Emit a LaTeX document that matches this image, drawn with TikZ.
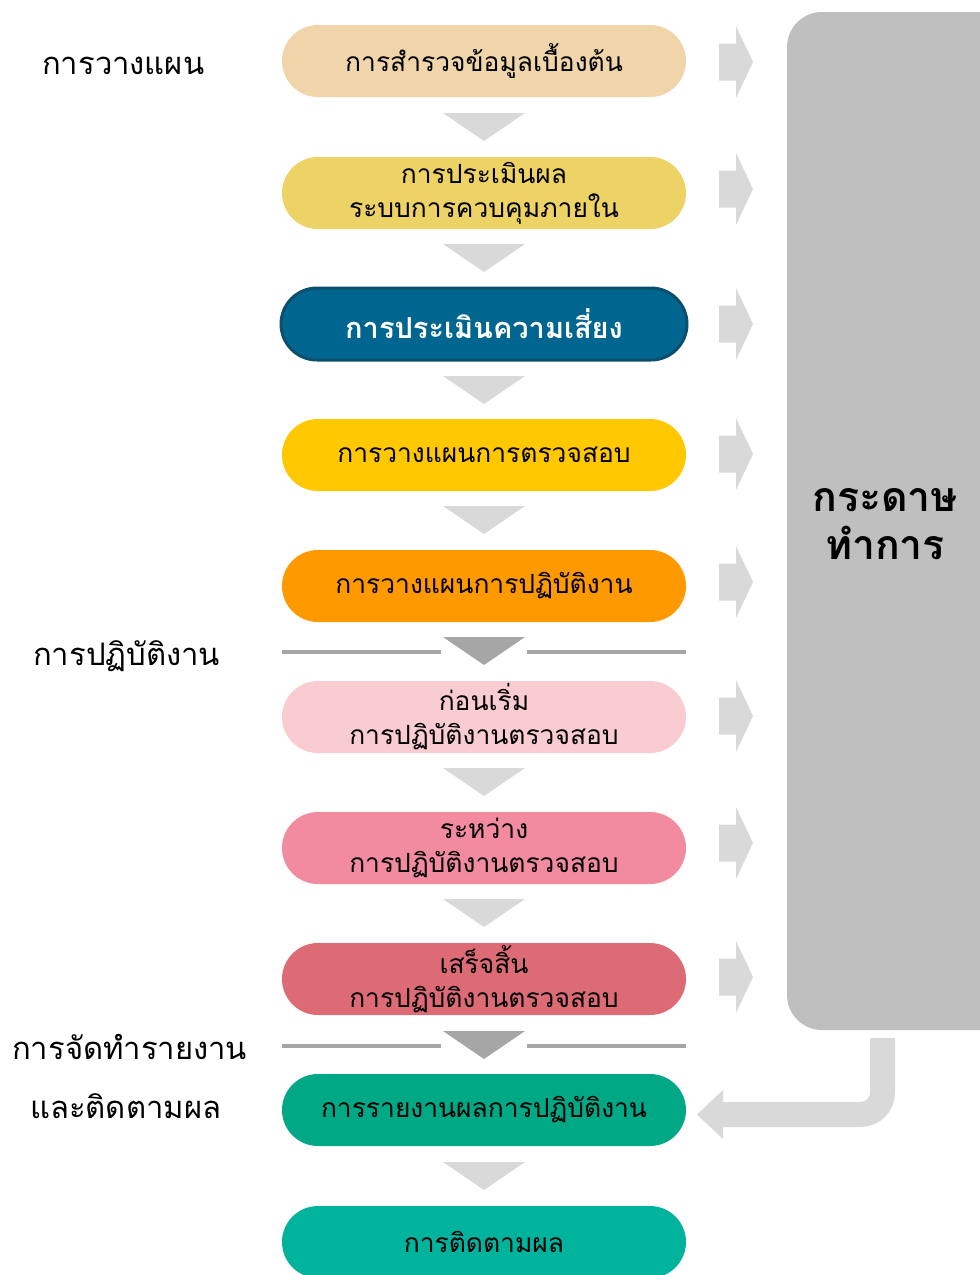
\documentclass[tikz,border=0pt]{standalone}
\usepackage{fontspec}
\newfontfamily\thai[Script=Thai]{Loma}
\usetikzlibrary{shapes.misc}
\definecolor{cA}{HTML}{EFD5A9}
\definecolor{cB}{HTML}{EDD366}
\definecolor{cC}{HTML}{00658F}
\definecolor{cCb}{HTML}{0B4F6C}
\definecolor{cD}{HTML}{FFC800}
\definecolor{cE}{HTML}{FF9900}
\definecolor{cF}{HTML}{F9CCD1}
\definecolor{cG}{HTML}{F28B9F}
\definecolor{cH}{HTML}{DD6B76}
\definecolor{cI}{HTML}{00A886}
\definecolor{cJ}{HTML}{00B39D}
\definecolor{lightg}{HTML}{D9D9D9}
\definecolor{darkg}{HTML}{A6A6A6}
\definecolor{paperg}{HTML}{BFBFBF}
\tikzset{
  pill/.style={rounded rectangle, minimum width=404pt, minimum height=72pt, inner sep=0pt,
     align=center, font=\thai\fontsize{26.4}{34}\selectfont, text=black},
  lbl/.style={font=\thai\fontsize{31}{40}\selectfont, text=black, inner sep=0pt},
  downtri/.style={fill=lightg},
  septri/.style={fill=darkg},
  sepline/.style={draw=darkg, line width=4pt},
  rarrow/.style={fill=lightg},
}
\begin{document}
\begin{tikzpicture}[x=1pt,y=-1pt]
\useasboundingbox (0,0) rectangle (980,1275);
\begin{scope}
\clip (0,0) rectangle (980,1275);
% big paper box
\node[fill=paperg, rounded corners=35pt, minimum width=240pt, minimum height=1018pt, inner sep=0pt] (paper) at (907,521) {};
\node[font=\thai\bfseries\fontsize{41}{48}\selectfont, align=center, inner sep=0pt] (papertxt) at (885,524) {กระดาษ\\ทำการ};
% pills
\node[pill, fill=cA] (p1) at (484,61) {การสำรวจข้อมูลเบื้องต้น};
\node[pill, fill=cB] (p2) at (484,193) {การประเมินผล\\ระบบการควบคุมภายใน};
\node[pill, fill=cC, draw=cCb, line width=3pt, minimum width=406pt, text=white, font=\thai\bfseries\fontsize{29}{34}\selectfont] (p3) at (484,324) {การประเมินความเสี่ยง};
\node[pill, fill=cD] (p4) at (484,455) {การวางแผนการตรวจสอบ};
\node[pill, fill=cE] (p5) at (484,586) {การวางแผนการปฏิบัติงาน};
\node[pill, fill=cF] (p6) at (484,717) {ก่อนเริ่ม\\การปฏิบัติงานตรวจสอบ};
\node[pill, fill=cG] (p7) at (484,848) {ระหว่าง\\การปฏิบัติงานตรวจสอบ};
\node[pill, fill=cH] (p8) at (484,979) {เสร็จสิ้น\\การปฏิบัติงานตรวจสอบ};
\node[pill, fill=cI] (p9) at (484,1110) {การรายงานผลการปฏิบัติงาน};
\node[pill, fill=cJ] (p10) at (484,1242) {การติดตามผล};
% down triangles
\foreach \m in {127,258,390,520,782,913,1176}{
  \fill[downtri] (443,{\m-14}) -- (525,{\m-14}) -- (484,{\m+14}) -- cycle;
}
\foreach \m in {651,1045}{
  \fill[septri] (443,{\m-14}) -- (525,{\m-14}) -- (484,{\m+14}) -- cycle;
  \draw[sepline] (282,{\m+1}) -- (441,{\m+1});
  \draw[sepline] (527,{\m+1}) -- (686,{\m+1});
}
% right arrows
\foreach \c in {62,189,324,454,582,716,843,977}{
  \fill[rarrow] (719,{\c-18.5}) -- (736,{\c-18.5}) -- (736,{\c-36}) -- (753,\c) -- (736,{\c+36}) -- (736,{\c+18.5}) -- (719,{\c+18.5}) -- cycle;
}
% bent arrow from paper to report
\coordinate (bstart) at (882.5,1038);
\coordinate (bend) at (722,1114.5);
\draw[lightg, line width=25pt, rounded corners=22pt] (bstart) |- (bend);
\fill[lightg] (723,1090) -- (697,1114.5) -- (723,1139) -- cycle;
% left labels
\node[lbl, anchor=west] (l1) at (42,66) {การวางแผน};
\node[lbl, anchor=west] (l2) at (33,656) {การปฏิบัติงาน};
\node[lbl, anchor=west] (l3) at (12,1047) {การจัดทำรายงาน};
\node[lbl, anchor=west] (l4) at (30,1106) {และติดตามผล};
\end{scope}
\end{tikzpicture}
\end{document}
